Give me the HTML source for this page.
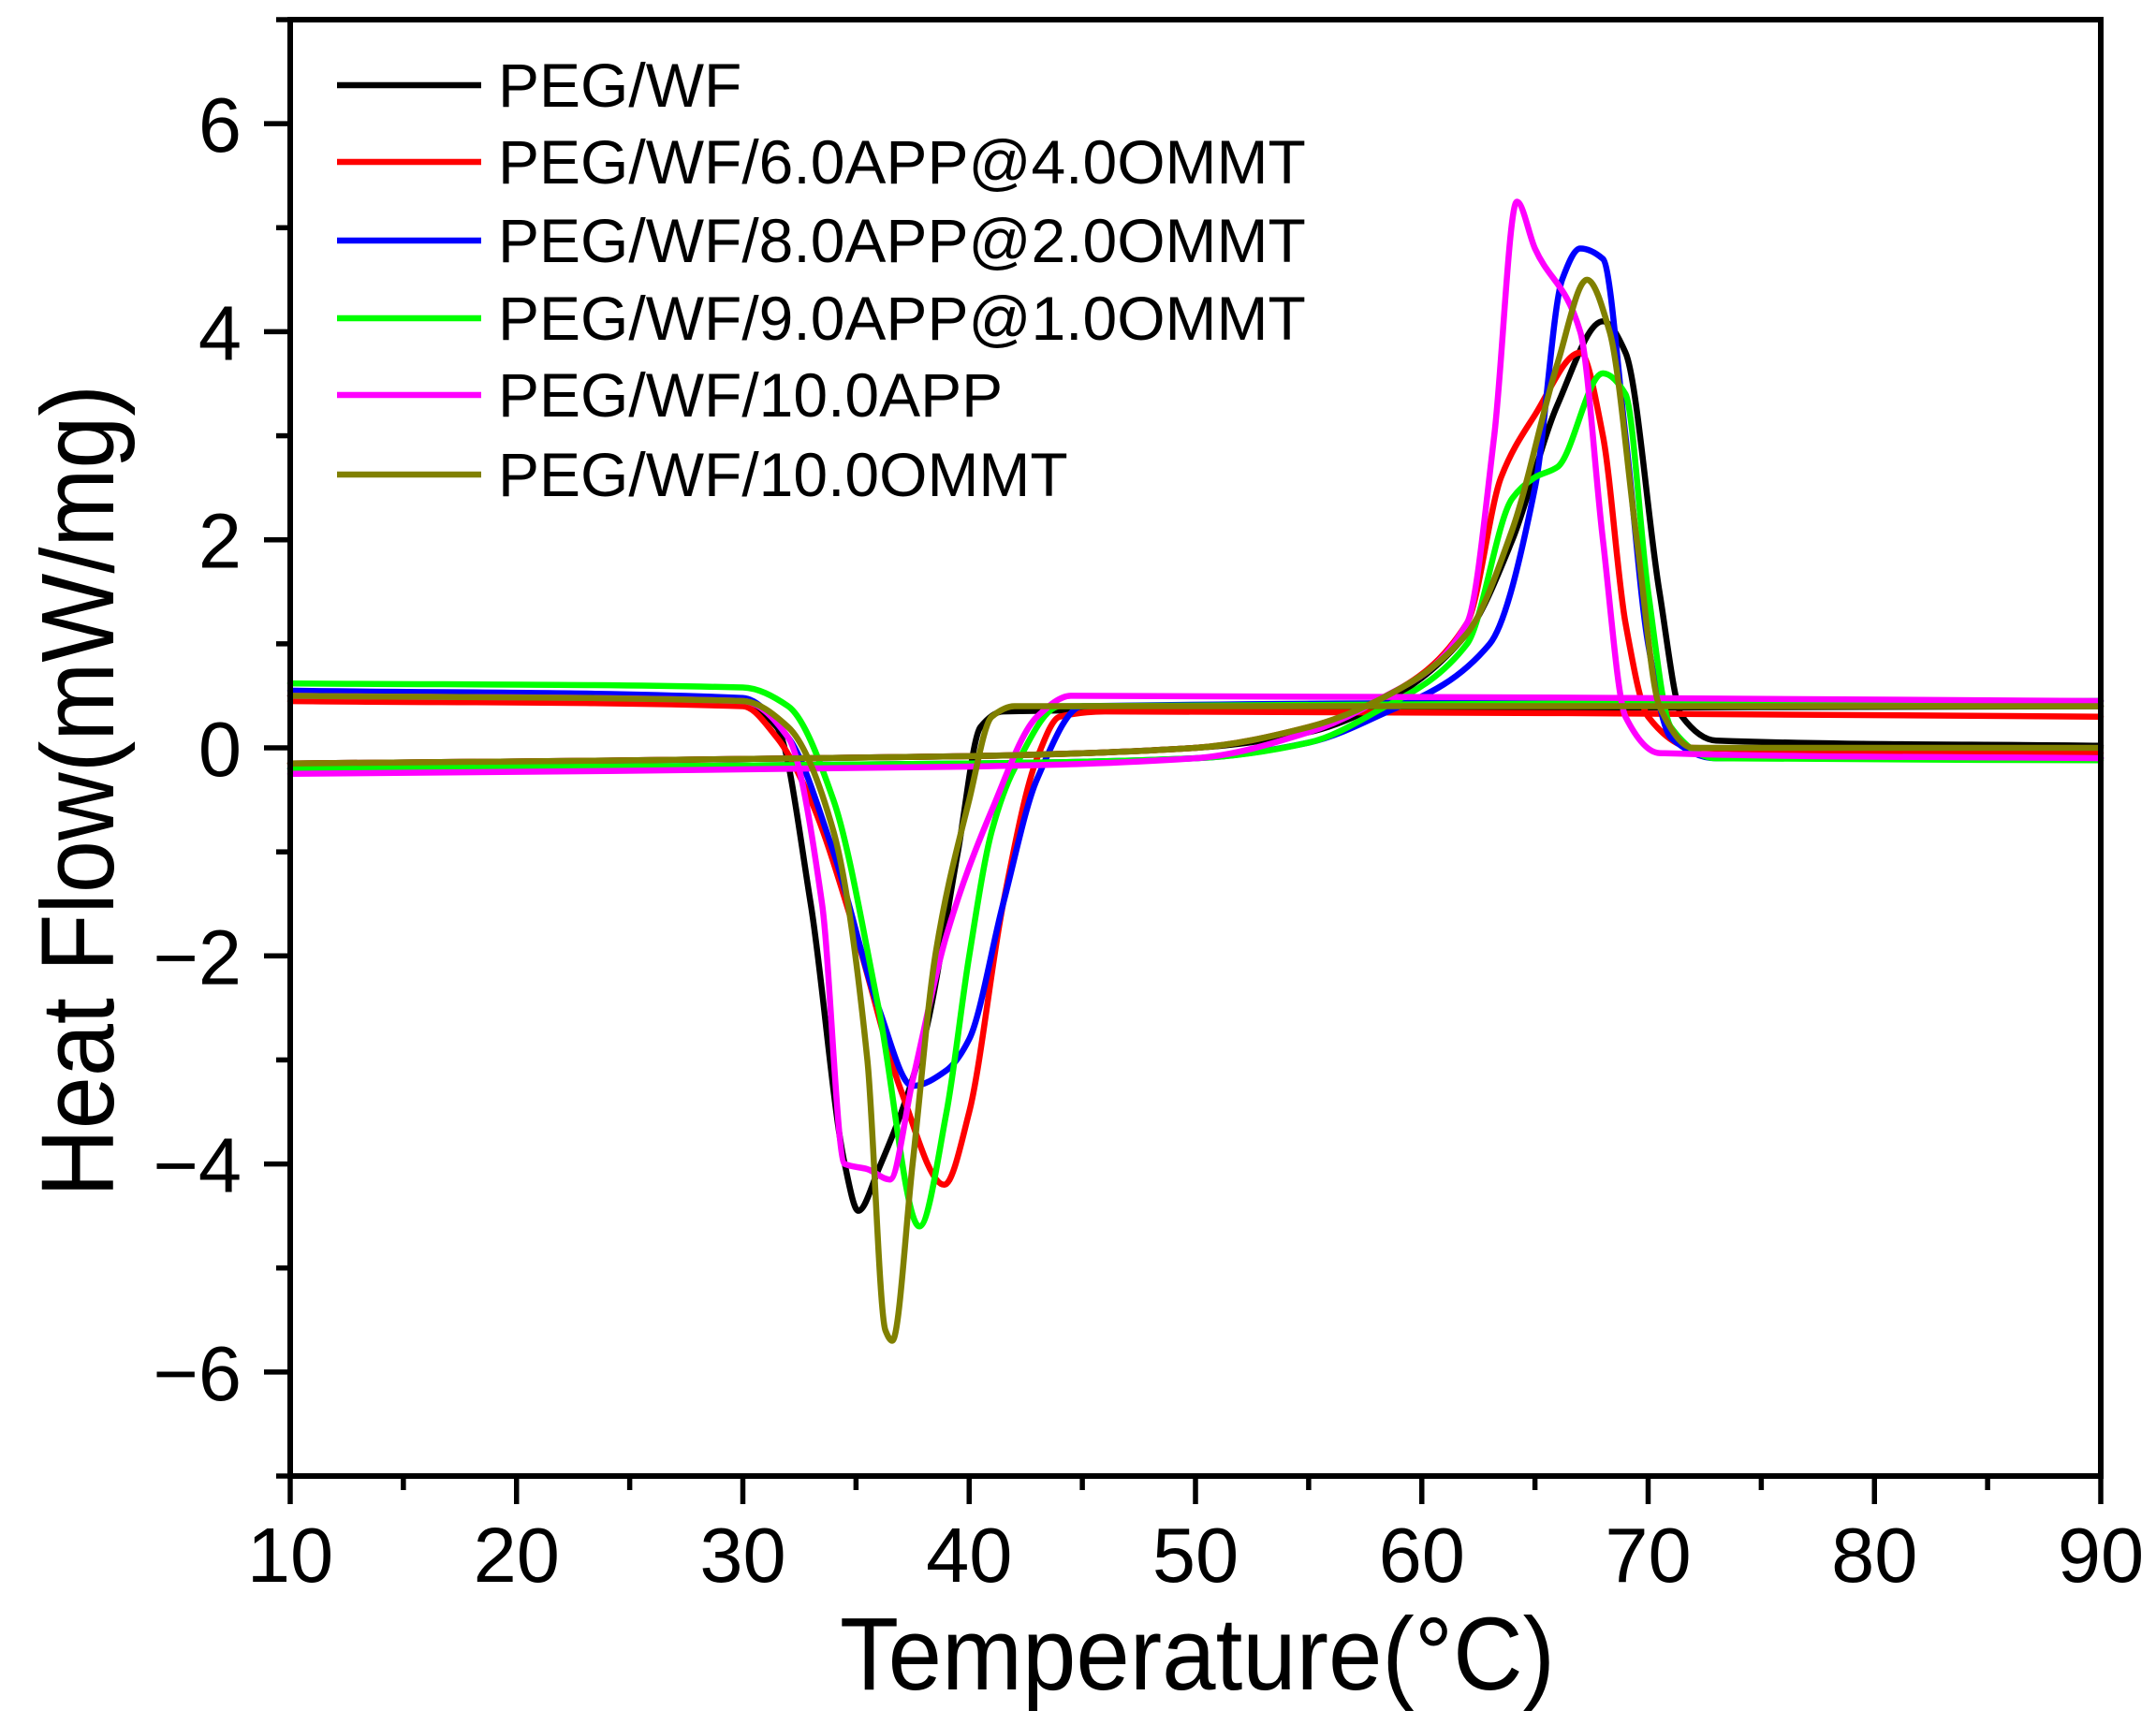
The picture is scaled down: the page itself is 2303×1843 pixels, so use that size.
<!DOCTYPE html>
<html><head><meta charset="utf-8"><style>
html,body{margin:0;padding:0;background:#fff;}
svg{display:block;font-family:"Liberation Sans",Arial,sans-serif;}
</style></head><body>
<svg id="s" width="2303" height="1843" viewBox="0 0 2303 1843" xmlns="http://www.w3.org/2000/svg">
<rect width="2303" height="1843" fill="#fff"/>
<g id="curves" fill="none" stroke-width="6.5" stroke-linejoin="round" stroke-linecap="round"></g>
<rect x="310" y="21" width="1934" height="1556" fill="none" stroke="#000" stroke-width="6"/>
<g id="ticks" stroke="#000" stroke-width="5.5"></g>
<g id="labels" font-size="83" fill="#000"></g>
<text x="897" y="1805" font-size="110" textLength="764" lengthAdjust="spacingAndGlyphs">Temperature(°C)</text>
<text transform="translate(121,845) rotate(-90)" font-size="110" text-anchor="middle" textLength="868" lengthAdjust="spacingAndGlyphs">Heat Flow(mW/mg)</text>
<g id="legend" font-size="66"></g>
</svg>
<script>
const X=v=>310+(v-10)*1934/80, Y=v=>21+(7-v)*1556/14;
const NS="http://www.w3.org/2000/svg";
function el(p,t,a,txt){const e=document.createElementNS(NS,t);for(const k in a)e.setAttribute(k,a[k]);if(txt!=null)e.textContent=txt;document.getElementById(p).appendChild(e);return e;}
function path(pts){
 const n=pts.length,x=pts.map(p=>p[0]),y=pts.map(p=>p[1]);
 const d=[],m=[];
 for(let i=0;i<n-1;i++)d.push((y[i+1]-y[i])/(x[i+1]-x[i]));
 m[0]=d[0];m[n-1]=d[n-2];
 for(let i=1;i<n-1;i++){ if(d[i-1]*d[i]<=0)m[i]=0; else {const w1=2*(x[i+1]-x[i])+(x[i]-x[i-1]),w2=(x[i+1]-x[i])+2*(x[i]-x[i-1]);m[i]=(w1+w2)/(w1/d[i-1]+w2/d[i]);} }
 let s="M"+X(x[0]).toFixed(1)+","+Y(y[0]).toFixed(1);
 for(let i=0;i<n-1;i++){const h=x[i+1]-x[i];
  s+=" C"+X(x[i]+h/3).toFixed(1)+","+Y(y[i]+m[i]*h/3).toFixed(1)+" "+X(x[i+1]-h/3).toFixed(1)+","+Y(y[i+1]-m[i+1]*h/3).toFixed(1)+" "+X(x[i+1]).toFixed(1)+","+Y(y[i+1]).toFixed(1);}
 return s;
}
const S=[
["#000",[[10,0.5],[30,0.42],[31.5,0.2],[33,-1.5],[34.5,-4],[35.1,-4.45],[36,-4.05],[38,-2.8],[39.5,-1],[40.5,0.2],[41.5,0.35],[60,0.38],[90,0.4]],
 [[10,-0.15],[40,-0.08],[50,0],[55,0.15],[58,0.4],[62,1.1],[64,2],[66,3.3],[68,4.1],[69,3.8],[70.5,1.5],[71.5,0.3],[73,0.07],[90,0.02]]],
["#f00",[[10,0.45],[30,0.4],[31.5,0.1],[33,-0.5],[35,-1.8],[37,-3.3],[38.9,-4.2],[40,-3.5],[41.5,-1.5],[43,-0.1],[44,0.3],[46,0.35],[90,0.3]],
 [[10,-0.15],[40,-0.08],[50,0],[55,0.2],[58,0.45],[62,1.2],[63.5,2.6],[65,3.2],[67,3.8],[68,3.0],[69,1.2],[70,0.3],[72,0],[90,-0.05]]],
["#00f",[[10,0.55],[30,0.48],[32,0.1],[34,-1],[36,-2.5],[37.5,-3.25],[39,-3.1],[40,-2.8],[41.5,-1.5],[43,-0.3],[45,0.4],[90,0.45]],
 [[10,-0.2],[40,-0.15],[50,-0.1],[55,0.05],[58,0.3],[63,1],[65,2.5],[66.2,4.5],[67,4.8],[68,4.7],[69,3],[70,1],[71,0.1],[73,-0.1],[90,-0.1]]],
["#0f0",[[10,0.62],[30,0.58],[32,0.4],[34,-0.5],[36,-2.5],[37.8,-4.6],[39,-3.5],[40,-2],[41,-0.8],[42,-0.2],[44,0.4],[90,0.45]],
 [[10,-0.2],[40,-0.15],[50,-0.1],[55,0.05],[58,0.35],[62,1.0],[64,2.4],[65,2.6],[66,2.7],[68,3.6],[69,3.4],[70,1.5],[71,0.2],[73,-0.1],[90,-0.12]]],
["#f0f",[[10,0.5],[30,0.45],[32,0.1],[33.5,-1.5],[34.5,-4],[35.5,-4.05],[36.5,-4.15],[37.5,-3.2],[39,-1.8],[41,-0.6],[43,0.3],[44.5,0.5],[90,0.45]],
 [[10,-0.25],[40,-0.18],[50,-0.1],[55,0.15],[58,0.45],[62,1.2],[63.2,3],[64.2,5.25],[65,4.8],[67,4.0],[68,2.0],[69,0.3],[70.5,-0.05],[90,-0.1]]],
["#808000",[[10,0.5],[30,0.45],[32,0.2],[34,-0.8],[35.5,-3],[36.3,-5.6],[36.6,-5.7],[37.5,-4],[38.5,-2],[40,-0.5],[41,0.3],[42,0.4],[90,0.4]],
 [[10,-0.15],[40,-0.08],[50,0],[55,0.2],[58,0.45],[62,1.1],[64,2.1],[66,3.7],[67.3,4.5],[68.3,4.0],[69.5,2.0],[70.5,0.4],[72,0],[90,0]]]
];
S.forEach(s=>{el("curves","path",{d:path(s[1]),stroke:s[0]});el("curves","path",{d:path(s[2]),stroke:s[0]});});
for(let v=10;v<=90;v+=5){const x=X(v);el("ticks","line",{x1:x,y1:1577,x2:x,y2:v%10==0?1607:1592});
 if(v%10==0)el("labels","text",{x:x,y:1690,"text-anchor":"middle"},String(v));}
for(let v=-7;v<=7;v++){const y=Y(v);el("ticks","line",{x1:310,y1:y,x2:(v%2==0)?282:295,y2:y});
 if(v%2==0&&Math.abs(v)<7)el("labels","text",{x:258,y:y+30,"text-anchor":"end"},v<0?"\u2212"+(-v):String(v));}
const L=[["#000","PEG/WF"],["#f00","PEG/WF/6.0APP@4.0OMMT"],["#00f","PEG/WF/8.0APP@2.0OMMT"],["#0f0","PEG/WF/9.0APP@1.0OMMT"],["#f0f","PEG/WF/10.0APP"],["#808000","PEG/WF/10.0OMMT"]];
const ly=[91,173,257,340,422,507];
L.forEach((l,i)=>{el("legend","line",{x1:360,x2:514,y1:ly[i],y2:ly[i],stroke:l[0],"stroke-width":6.5});
 el("legend","text",{x:532,y:ly[i]+23},l[1]);});
</script>
</body></html>
